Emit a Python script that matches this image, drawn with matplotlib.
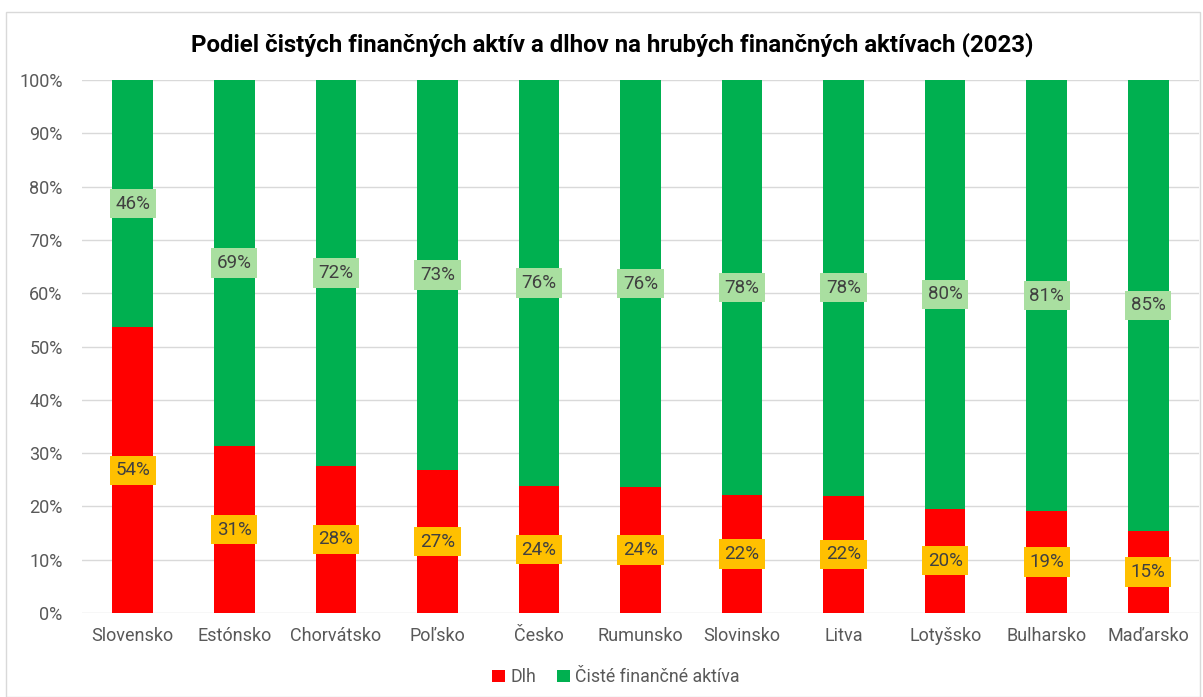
import matplotlib.pyplot as plt
from matplotlib.patches import Rectangle
from matplotlib.ticker import PercentFormatter

# Data
countries = ['Slovensko', 'Estónsko', 'Chorvátsko', 'Poľsko', 'Česko', 'Rumunsko',
             'Slovinsko', 'Litva', 'Lotyšsko', 'Bulharsko', 'Maďarsko']
debt = [53.6, 31.3, 27.6, 26.8, 23.8, 23.6, 22.1, 22.0, 19.6, 19.1, 15.4]
net_assets = [100 - d for d in debt]

RED = '#FF0000'
GREEN = '#00B050'
TXT = '#404040'

plt.rcParams['font.family'] = ['Roboto', 'DejaVu Sans']

fig = plt.figure(figsize=(12.03, 6.97), dpi=100)
ax = fig.add_axes([82 / 1203, 1 - 613 / 697, (1199 - 82) / 1203, (613 - 80) / 697])

x = range(len(countries))
ax.bar(x, debt, width=0.4, color=RED, label='Dlh', zorder=2)
ax.bar(x, net_assets, width=0.4, bottom=debt, color=GREEN,
       label='Čisté finančné aktíva', zorder=2)

# Data labels centred in each segment
for i, (d, n) in enumerate(zip(debt, net_assets)):
    ax.text(i, d / 2, f'{d:.0f}%', ha='center', va='center', fontsize=13.5, color=TXT, zorder=3,
            bbox=dict(boxstyle='square,pad=0.3', fc='#FFC000', ec='none'))
    ax.text(i, d + n / 2, f'{n:.0f}%', ha='center', va='center', fontsize=13.5, color=TXT, zorder=3,
            bbox=dict(boxstyle='square,pad=0.3', fc='#A9DFA0', ec='none'))

ax.set_xlim(-0.5, len(countries) - 0.5)
ax.set_ylim(0, 100)
ax.set_yticks(range(0, 101, 10))
ax.yaxis.set_major_formatter(PercentFormatter(decimals=0))
ax.set_xticks(list(x))
ax.set_xticklabels(countries)
ax.tick_params(axis='both', length=0, labelsize=13, colors='#595959')
ax.tick_params(axis='y', pad=14)
ax.tick_params(axis='x', pad=10)
ax.grid(axis='y', color='#D9D9D9', linewidth=1, zorder=0)
for s in ax.spines.values():
    s.set_visible(False)

fig.text(0.509, 1 - 45 / 697, 'Podiel čistých finančných aktív a dlhov na hrubých finančných aktívach (2023)',
         ha='center', va='center', fontsize=17.3, fontweight='bold', color='black')

leg = fig.legend(loc='center', bbox_to_anchor=(0.512, 1 - 677 / 697), ncol=2, frameon=False,
                 fontsize=12.8, handlelength=0.7, handleheight=0.7, handletextpad=0.3,
                 columnspacing=1.2)
for t in leg.get_texts():
    t.set_color('#595959')

# Light frame around the chart
fig.patches.append(Rectangle((6 / 1203, 0), 1194 / 1203, 1 - 12 / 697, transform=fig.transFigure,
                             fill=False, ec='#D9D9D9', lw=1))

fig.savefig('out.png', dpi=100)
